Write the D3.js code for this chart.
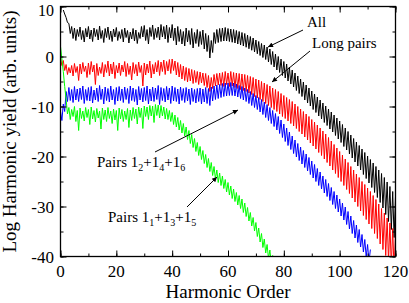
<!DOCTYPE html>
<html><head><meta charset="utf-8">
<script src="https://cdn.jsdelivr.net/npm/d3@7"></script>
<style>body{margin:0;background:#fff}svg{display:block}</style>
</head><body>
<svg id="chart" width="409" height="303"></svg>
<script>
// x tick labels / y tick labels
const xTicks = [0, 20, 40, 60, 80, 100, 120];
const yTicks = [-40, -30, -20, -10, 0, 10];

// "All": peaks at harmonics 1..120, dips at 1.5..119.5
const allStart = 1;
const allPeaks = [9.3,7.8,6.6,6.0,5.7,5.4,5.9,5.2,5.6,6.0,
5.3,5.7,5.4,6.1,5.2,5.6,5.9,5.1,5.5,5.8,
5.0,5.4,5.7,5.2,4.9,5.6,5.3,4.8,6.0,6.2,
5.4,5.8,6.3,5.6,5.9,6.4,6.0,6.3,5.8,6.4,
5.7,6.0,5.4,5.0,5.7,5.2,5.6,4.8,5.4,5.0,
5.3,4.6,4.2,3.2,4.8,5.4,5.6,5.7,5.8,5.6,
5.5,5.4,5.2,5.0,4.8,4.6,4.3,4.0,3.7,3.3,
3.0,2.6,2.3,1.9,1.5,1.0,0.5,0.0,-0.5,-1.0,
-1.5,-2.1,-2.7,-3.3,-3.9,-4.5,-5.1,-5.7,-6.3,-6.9,
-7.5,-8.1,-8.7,-9.3,-9.9,-10.5,-11.1,-11.7,-12.3,-12.9,
-13.6,-14.3,-15.0,-15.7,-16.4,-17.1,-17.8,-18.5,-19.2,-19.9,
-20.6,-21.3,-22.0,-22.7,-23.4,-24.2,-25.1,-26.0,-27.0,-28.0];
const allDips = [8.5,6.8,4.6,3.6,3.2,4.0,3.4,2.9,3.9,3.5,
3.0,4.0,3.3,3.6,2.8,3.8,3.4,3.0,3.9,3.2,
3.6,2.9,3.8,2.7,3.5,3.1,2.6,3.6,3.9,3.2,
2.5,4.0,3.4,3.8,3.3,3.9,3.5,2.8,3.7,3.2,
2.3,3.0,2.5,2.1,2.9,2.4,1.7,2.6,2.0,2.4,
1.5,1.0,-0.3,0.8,2.6,2.8,3.0,3.1,3.1,3.0,
2.85,2.7,2.5,2.3,2.1,1.85,1.55,1.25,0.9,0.55,
0.2,-0.2,-0.6,-1.1,-1.6,-2.1,-2.7,-3.2,-3.8,-4.3,
-4.9,-5.5,-6.1,-6.8,-7.4,-8.0,-8.7,-9.3,-9.9,-10.6,
-11.2,-11.9,-12.5,-13.2,-13.8,-14.5,-15.1,-15.8,-16.5,-17.2,
-18.0,-18.7,-19.5,-20.3,-21.1,-21.9,-22.7,-23.6,-24.4,-25.3,
-26.2,-27.2,-28.2,-29.2,-30.3,-31.6,-33.0,-34.6,-36.2];

// "Long pairs": peaks at 0..120, dips at 0.5..119.5
const longStart = 0;
const longPeaks = [-0.2,-0.8,-1.6,-2.2,-1.8,-1.4,-2.0,-1.5,-1.2,-1.9,
-1.3,-1.0,-1.7,-1.4,-2.1,-1.2,-1.6,-0.9,-1.5,-1.1,
-1.8,-1.3,-1.7,-1.0,-1.4,-1.9,-1.2,-1.6,-1.1,-1.8,
-1.3,-1.5,-0.9,-1.6,-1.2,-0.8,-1.1,-0.7,-1.0,-0.6,
-0.5,-0.9,-1.2,-1.6,-1.9,-2.2,-2.4,-2.6,-2.8,-3.0,
-3.1,-3.3,-3.4,-3.8,-4.2,-3.6,-3.4,-3.3,-3.2,-3.0,
-3.3,-3.0,-3.2,-3.3,-3.4,-3.5,-3.6,-3.8,-4.0,-4.2,
-4.5,-4.7,-5.0,-5.3,-5.6,-5.9,-6.3,-6.6,-7.0,-7.4,
-7.8,-8.2,-8.6,-9.0,-9.5,-10.0,-10.5,-11.0,-11.5,-12.0,
-12.6,-13.1,-13.7,-14.3,-14.9,-15.5,-16.2,-16.9,-17.6,-18.3,
-19.0,-19.7,-20.5,-21.2,-22.0,-22.7,-23.5,-24.2,-25.0,-25.6,
-26.3,-27.0,-27.8,-28.6,-29.5,-30.4,-31.3,-32.3,-33.3,-34.4,-35.5];
const longDips = [-1.8,-2.8,-3.6,-3.3,-3.9,-3.2,-4.8,-3.5,-3.0,-4.2,
-3.6,-3.1,-5.6,-3.8,-3.4,-4.1,-3.2,-3.9,-3.5,-4.4,
-3.3,-3.8,-3.1,-4.0,-3.6,-4.7,-3.4,-3.9,-3.2,-5.9,
-3.7,-3.3,-4.3,-3.5,-3.1,-3.8,-3.0,-3.6,-2.9,-3.4,
-2.8,-3.7,-4.1,-4.5,-4.8,-5.1,-4.9,-5.4,-5.2,-5.6,
-5.3,-5.8,-6.2,-7.0,-6.4,-5.9,-5.7,-5.8,-6.0,-5.6,
-6.0,-5.9,-6.2,-6.4,-6.6,-6.8,-7.0,-7.3,-7.6,-8.0,
-8.3,-8.6,-9.0,-9.4,-9.8,-10.2,-10.6,-11.0,-11.5,-12.0,
-12.4,-12.9,-13.4,-13.9,-14.4,-15.0,-15.5,-16.1,-16.7,-17.3,
-17.9,-18.5,-19.2,-19.8,-20.5,-21.2,-21.9,-22.7,-23.4,-24.2,
-25.0,-25.8,-26.6,-27.4,-28.3,-29.1,-30.0,-30.9,-31.8,-32.6,
-33.5,-34.4,-35.4,-36.4,-37.5,-38.6,-39.8,-41.0,-42.0,-43.0];

// "Pairs 1_2+1_4+1_6": peaks at 0..111, dips at 0.5..110.5
const evenStart = 0;
const evenPeaks = [-11.0,-9.5,-7.0,-6.2,-6.6,-6.0,-6.5,-6.3,-5.9,-6.6,
-6.2,-6.0,-6.7,-6.3,-5.8,-6.5,-6.1,-6.4,-5.9,-6.6,
-6.2,-6.0,-6.5,-6.1,-6.4,-5.9,-6.3,-6.6,-6.0,-6.4,
-6.2,-5.9,-6.5,-6.1,-6.3,-5.8,-6.2,-6.4,-6.0,-6.3,
-5.9,-6.2,-6.5,-6.1,-6.4,-6.2,-6.5,-6.3,-6.6,-6.4,
-6.3,-6.5,-6.2,-6.4,-6.1,-5.9,-5.7,-5.6,-5.4,-5.3,
-5.3,-5.2,-5.3,-5.5,-5.8,-6.0,-6.3,-6.6,-7.0,-7.4,
-7.8,-8.2,-8.6,-9.1,-9.6,-10.2,-10.8,-11.4,-12.0,-12.7,
-13.5,-14.3,-15.1,-15.9,-16.7,-17.4,-18.1,-18.8,-19.5,-20.2,
-20.9,-21.6,-22.4,-23.1,-23.9,-24.6,-25.4,-26.2,-27.0,-27.7,
-28.5,-29.3,-30.1,-31.0,-31.9,-32.8,-33.7,-34.6,-35.6,-36.6,
-37.6,-38.6];
const evenDips = [-12.8,-11.0,-9.0,-8.8,-9.2,-8.7,-9.0,-8.6,-9.4,-8.8,
-8.9,-9.3,-8.7,-9.0,-8.6,-9.5,-8.8,-9.1,-8.7,-9.6,
-8.9,-8.8,-9.2,-8.6,-9.4,-8.8,-9.0,-9.7,-8.7,-9.1,
-8.8,-9.5,-8.9,-9.0,-8.6,-9.6,-8.8,-9.1,-8.7,-9.4,
-8.9,-9.0,-9.5,-8.8,-9.2,-8.9,-9.6,-9.0,-9.3,-9.0,
-9.5,-9.1,-9.4,-9.8,-8.9,-8.6,-8.4,-8.2,-8.0,-7.9,
-7.8,-7.8,-7.9,-8.1,-8.4,-8.7,-9.0,-9.4,-9.8,-10.2,
-10.6,-11.1,-11.6,-12.2,-12.8,-13.4,-14.0,-14.7,-15.4,-16.2,
-17.0,-17.8,-18.6,-19.4,-20.1,-20.8,-21.5,-22.2,-22.9,-23.6,
-24.3,-25.0,-25.8,-26.5,-27.3,-28.0,-28.8,-29.6,-30.4,-31.1,
-31.9,-32.7,-33.6,-34.5,-35.4,-36.3,-37.2,-38.1,-39.1,-40.1,-41.1];

// "Pairs 1_1+1_3+1_5": peaks at 0..77, dips at 0.5..76.5
const oddStart = 0;
const oddPeaks = [2.0,-3.0,-8.5,-10.2,-10.6,-10.0,-10.8,-10.3,-10.9,-10.2,
-10.6,-10.1,-10.8,-10.4,-10.9,-10.3,-10.7,-10.2,-10.9,-10.5,
-10.8,-10.3,-10.6,-10.9,-10.4,-10.7,-10.2,-10.5,-10.1,-10.3,
-9.9,-10.1,-9.8,-9.9,-9.6,-9.7,-9.8,-10.1,-10.4,-10.8,
-11.2,-11.7,-12.2,-12.8,-13.4,-14.1,-14.8,-15.6,-16.4,-17.2,
-18.0,-18.8,-19.6,-20.4,-21.2,-22.0,-22.7,-23.3,-23.9,-24.6,
-25.2,-25.9,-26.5,-27.2,-27.8,-28.5,-29.3,-30.2,-31.2,-32.2,
-33.2,-34.3,-35.4,-36.5,-37.6,-38.7,-39.8,-41.0];
const oddDips = [-0.5,-6.0,-11.5,-12.6,-12.0,-13.0,-14.8,-12.4,-12.9,-12.2,
-13.6,-12.5,-13.1,-12.3,-14.5,-12.6,-13.0,-12.4,-13.4,-12.7,
-14.8,-12.5,-13.0,-12.6,-14.2,-12.8,-12.4,-13.5,-12.2,-14.4,
-12.0,-12.6,-11.9,-13.2,-11.8,-12.3,-11.9,-12.5,-12.6,-13.0,
-13.6,-14.1,-14.7,-15.3,-15.9,-16.6,-17.4,-18.2,-19.0,-19.8,
-20.6,-21.4,-22.2,-23.0,-23.8,-24.5,-25.2,-25.8,-26.4,-27.1,
-27.7,-28.4,-29.0,-29.7,-30.4,-31.2,-32.0,-32.9,-33.9,-34.9,
-36.0,-37.1,-38.2,-39.3,-40.4,-41.5,-42.6];

const seriesNames = ["All", "Long pairs", "Pairs 1_2+1_4+1_6", "Pairs 1_1+1_3+1_5"];
const seriesColors = ["#000000", "#ff0000", "#0000ff", "#00ff00"];

const series = [
  {start: allStart, peaks: allPeaks, dips: allDips},
  {start: longStart, peaks: longPeaks, dips: longDips},
  {start: evenStart, peaks: evenPeaks, dips: evenDips},
  {start: oddStart, peaks: oddPeaks, dips: oddDips}
];

const svg = d3.select("#chart");
const L = 60.5, R = 395.5, T = 6.5, B = 256.5;
const x = d3.scaleLinear().domain([0, 120]).range([L, R]);
const y = d3.scaleLinear().domain([-40, 10]).range([B, T]);
const serif = "'Liberation Serif','Times New Roman',serif";

svg.append("defs").append("clipPath").attr("id", "clip")
  .append("rect").attr("x", L).attr("y", T).attr("width", R - L).attr("height", B - T);

const line = d3.line().x(d => x(d[0])).y(d => y(d[1]));
const g = svg.append("g").attr("clip-path", "url(#clip)");
series.forEach((s, k) => {
  const pts = [];
  s.peaks.forEach((v, i) => {
    pts.push([s.start + i, v]);
    if (i < s.dips.length) pts.push([s.start + i + 0.5, s.dips[i]]);
  });
  g.append("path").datum(pts).attr("d", line)
    .attr("fill", "none").attr("stroke", seriesColors[k])
    .attr("stroke-width", 1.0).attr("stroke-linejoin", "miter");
});

// axes
const xMinor = d3.range(0, 121, 10);
const yMinor = d3.range(-40, 11, 5);
function axis(gen, tx, ty, vals, size) {
  const a = svg.append("g").attr("transform", `translate(${tx},${ty})`)
    .call(gen.tickValues(vals).tickSize(size).tickFormat(""));
  a.select(".domain").remove();
  a.selectAll("line").attr("stroke", "#000").attr("stroke-width", 1);
  return a;
}
axis(d3.axisBottom(x), 0, B, xMinor, -3);
axis(d3.axisBottom(x), 0, B, xTicks, -6);
axis(d3.axisTop(x), 0, T, xMinor, -3);
axis(d3.axisTop(x), 0, T, xTicks, -6);
axis(d3.axisLeft(y), L, 0, yMinor, -3);
axis(d3.axisLeft(y), L, 0, yTicks, -6);
axis(d3.axisRight(y), R, 0, yMinor, -3);
axis(d3.axisRight(y), R, 0, yTicks, -6);

svg.append("rect").attr("x", L).attr("y", T).attr("width", R - L).attr("height", B - T)
  .attr("fill", "none").attr("stroke", "#000").attr("stroke-width", 1.3);

svg.append("g").selectAll("text").data(xTicks).join("text")
  .attr("x", d => x(d)).attr("y", 277).attr("text-anchor", "middle")
  .attr("font-family", serif).attr("font-size", 17).text(d => d);
svg.append("g").selectAll("text").data(yTicks).join("text")
  .attr("x", 54).attr("y", d => Math.max(y(d) + 6, 15.5)).attr("text-anchor", "end")
  .attr("font-family", serif).attr("font-size", d => d === 10 ? 16 : 17)
  .text(d => d < 0 ? "-" + Math.abs(d) : d);

svg.append("text").attr("x", (L + R) / 2).attr("y", 298).attr("text-anchor", "middle")
  .attr("font-family", serif).attr("font-size", 19).text("Harmonic Order");
svg.append("text").attr("transform", `translate(16,${(T + B) / 2}) rotate(-90)`)
  .attr("text-anchor", "middle").attr("font-family", serif).attr("font-size", 19)
  .text("Log Harmonic yield (arb. units)");

// annotations
svg.select("defs").append("marker").attr("id", "ah").attr("viewBox", "0 0 10 10")
  .attr("refX", 10).attr("refY", 5).attr("markerWidth", 7).attr("markerHeight", 5)
  .attr("orient", "auto").attr("markerUnits", "userSpaceOnUse")
  .append("path").attr("d", "M0,0L10,5L0,10z").attr("fill", "#000");

function arrow(x1, y1, x2, y2) {
  svg.append("line").attr("x1", x1).attr("y1", y1).attr("x2", x2).attr("y2", y2)
    .attr("stroke", "#000").attr("stroke-width", 1).attr("marker-end", "url(#ah)");
}
function label(px, py, parts) {
  const t = svg.append("text").attr("x", px).attr("y", py)
    .attr("font-family", serif).attr("font-size", 15);
  parts.forEach(p => {
    const s = t.append("tspan").text(p[0]);
    if (p[1]) s.attr("font-size", 10).attr("dy", 4);
    else if (p[2]) s.attr("dy", -4);
  });
}
label(307, 27, [["All"]]);
arrow(303, 30, 268, 47);
label(312, 48, [["Long pairs"]]);
arrow(310, 51, 272, 82);
label(97, 167, [["Pairs 1"], ["2", 1], ["+1", 0, 1], ["4", 1], ["+1", 0, 1], ["6", 1]]);
arrow(155, 152, 238, 110);
label(108, 222, [["Pairs 1"], ["1", 1], ["+1", 0, 1], ["3", 1], ["+1", 0, 1], ["5", 1]]);
arrow(187, 207, 217, 177);
</script>
</body></html>
